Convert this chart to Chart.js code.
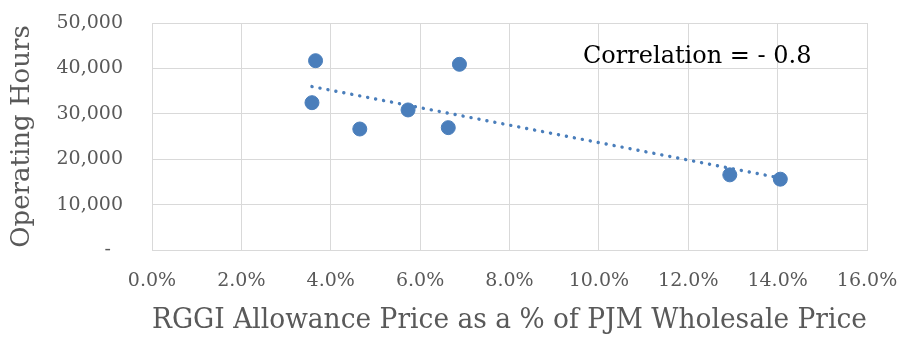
<!DOCTYPE html>
<html>
<head>
<meta charset="utf-8">
<script src="https://cdn.jsdelivr.net/npm/chart.js@4.4.1/dist/chart.umd.min.js"></script>
<style>
  html, body { margin: 0; padding: 0; background: #fff; }
  #wrap { width: 900px; height: 337px; position: relative; }
</style>
</head>
<body>
<div id="wrap"><canvas id="chart"></canvas></div>
<script>
// RGGI allowance price (% of PJM wholesale price) vs operating hours
const pricePct = [3.66, 3.58, 4.65, 5.73, 6.63, 6.88, 12.93, 14.06];
const opHours  = [41700, 32450, 26650, 30850, 26950, 40900, 16550, 15600];

// linear trendline endpoints as drawn in the picture
const trendX = [3.58, 14.06];
const trendY = [36000, 15850];

const correlationLabel = 'Correlation = - 0.8';

const FONT = "'DejaVu Serif', serif";
const GREY = '#595959';
const BLUE = '#4a7ebb';

const points = pricePct.map((x, i) => ({ x: x, y: opHours[i] }));
const trend = trendX.map((x, i) => ({ x: x, y: trendY[i] }));

// draws the correlation note in the top right of the plot area
const notePlugin = {
    id: 'note',
    afterDraw(chart) {
        const ctx = chart.ctx;
        const area = chart.chartArea;
        ctx.save();
        ctx.font = "24px " + FONT;
        ctx.fillStyle = '#000';
        ctx.textBaseline = 'alphabetic';
        ctx.textAlign = 'left';
        ctx.fillText(correlationLabel, area.left + 431, area.top + 40);
        ctx.restore();
    }
};

new Chart(document.getElementById('chart'), {
    type: 'scatter',
    data: {
        datasets: [
            {
                label: 'Plants',
                data: points,
                backgroundColor: BLUE,
                borderColor: BLUE,
                pointRadius: 7,
                pointHoverRadius: 7,
                order: 1
            },
            {
                label: 'Trend',
                data: trend,
                showLine: true,
                borderColor: BLUE,
                borderWidth: 3.4,
                borderDash: [0.1, 8],
                borderCapStyle: 'round',
                pointRadius: 0,
                fill: false,
                order: 2
            }
        ]
    },
    options: {
        responsive: true,
        maintainAspectRatio: false,
        animation: false,
        layout: { padding: { top: 23, right: 33, left: 0, bottom: 0 } },
        plugins: {
            legend: { display: false },
            tooltip: { enabled: false }
        },
        scales: {
            x: {
                type: 'linear',
                min: 0,
                max: 16,
                afterFit: s => { s.height = 87; s.paddingLeft = 0; s.paddingRight = 0; },
                ticks: {
                    stepSize: 2,
                    padding: 20,
                    color: GREY,
                    font: { family: FONT, size: 19 },
                    callback: v => v.toFixed(1) + '%'
                },
                grid: { color: '#d9d9d9', lineWidth: 1, drawTicks: false },
                border: { color: '#d9d9d9' },
                title: {
                    display: true,
                    text: 'RGGI Allowance Price as a % of PJM Wholesale Price',
                    color: GREY,
                    font: { family: FONT, size: 27 },
                    padding: { top: 0, bottom: 0 }
                }
            },
            y: {
                type: 'linear',
                min: 0,
                max: 50000,
                afterFit: s => { s.width = 152; s.paddingTop = 0; s.paddingBottom = 0; },
                ticks: {
                    stepSize: 10000,
                    padding: 29,
                    color: GREY,
                    font: { family: FONT, size: 19 },
                    callback: v => v === 0 ? '-  ' : v.toLocaleString('en-US')
                },
                grid: { color: '#d9d9d9', lineWidth: 1, drawTicks: false },
                border: { color: '#d9d9d9' },
                title: {
                    display: true,
                    text: 'Operating Hours',
                    color: GREY,
                    font: { family: FONT, size: 26 },
                    padding: { top: 7, bottom: 0 }
                }
            }
        }
    },
    plugins: [notePlugin]
});
</script>
</body>
</html>
